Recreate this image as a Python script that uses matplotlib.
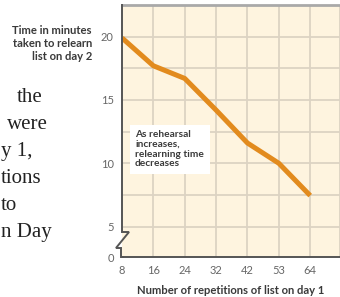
import matplotlib.pyplot as plt
from matplotlib.lines import Line2D

repetitions = ["8", "16", "24", "32", "42", "53", "64"]
relearn_minutes = [19.9, 17.7, 16.7, 14.2, 11.6, 10.0, 7.45]

ytick_values = [2.6, 5, 10, 15, 20]
ytick_labels = ["0", "5", "10", "15", "20"]
grid_minor = [7.5, 12.5, 17.5]

# visible ends of the neighbouring caption column
caption_lines = ["the", "were", "y 1,", "tions", "to", "n Day"]
caption_left = [17, 7, 1, 1, 1, 1]

W, H = 340, 297


def main():
    fig = plt.figure(figsize=(3.4, 2.97), dpi=100)
    fig.patch.set_facecolor("white")

    left, right, bottom, top = 122, 340, 257, 5
    ax = fig.add_axes([left / W, 1 - bottom / H, (right - left) / W, (bottom - top) / H])
    ax.set_facecolor("#FEF4DF")

    x = list(range(len(repetitions)))
    ax.plot(x, relearn_minutes, color="#E28B1E", linewidth=3.6,
            solid_capstyle="butt", solid_joinstyle="round", zorder=4)

    ax.set_xlim(0, 6.95)
    ax.set_ylim(2.6, 22.5)

    grid_color = "#DCD3C3"
    for xi in x[1:] + [6.95]:
        ax.axvline(xi, color=grid_color, linewidth=1.3, zorder=1)
    for yi in ytick_values[1:] + grid_minor:
        ax.axhline(yi, color=grid_color, linewidth=1.3, zorder=1)

    ax.set_xticks(x)
    ax.set_xticklabels(repetitions)
    ax.set_yticks(ytick_values)
    ax.set_yticklabels(ytick_labels)
    ax.tick_params(axis="x", length=0, labelsize=8, labelcolor="#666666", pad=6)
    ax.tick_params(axis="y", length=0, labelsize=8, labelcolor="#666666", pad=6)
    for lab in ax.get_xticklabels() + ax.get_yticklabels():
        lab.set_family("Lato")

    for side in ["left", "right", "top"]:
        ax.spines[side].set_visible(False)
    ax.spines["bottom"].set_color("#555555")
    ax.spines["bottom"].set_linewidth(1.4)

    # top border
    fig.add_artist(Line2D([left / W, 1], [1 - top / H, 1 - top / H],
                          color="#A9A9A9", linewidth=2.0))
    # broken left axis
    px = [122, 122, 129, 116, 121, 121, 123]
    py = [5, 232, 232, 248, 248, 257, 257]
    fig.add_artist(Line2D([p / W for p in px], [1 - p / H for p in py],
                          color="#555555", linewidth=1.4,
                          solid_joinstyle="miter"))

    ax.text(0.06, 0.502, "As rehearsal\nincreases,\nrelearning time\ndecreases",
            transform=ax.transAxes, ha="left", va="top", fontsize=7.3,
            family="Lato", fontweight="bold", color="#3A3A3A", linespacing=1.08,
            zorder=5,
            bbox=dict(facecolor="white", edgecolor="none", pad=4))

    ax.set_xlabel("Number of repetitions of list on day 1", fontsize=8.1,
                  family="Lato", fontweight="bold", color="#3A3A3A", labelpad=6)

    fig.text(92 / W, 1 - 25 / H, "Time in minutes\ntaken to relearn\nlist on day 2",
             ha="right", va="top", fontsize=8.1, family="Lato",
             fontweight="bold", color="#3A3A3A", linespacing=1.2)

    for i, (line, xl) in enumerate(zip(caption_lines, caption_left)):
        fig.text(xl / W, 1 - (102 + 27 * i) / H, line, ha="left",
                 va="baseline", fontsize=15, family="Liberation Serif",
                 color="#222222")

    fig.savefig("out.png", dpi=100)
    plt.close(fig)


if __name__ == "__main__":
    main()
